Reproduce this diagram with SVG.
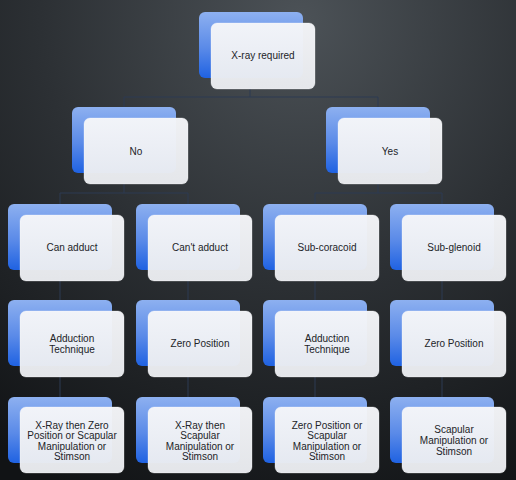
<svg xmlns="http://www.w3.org/2000/svg" width="516" height="480" viewBox="0 0 516 480">
<defs>
<radialGradient id="bg" cx="300" cy="20" r="520" gradientUnits="userSpaceOnUse">
<stop offset="0" stop-color="#4c5257"/>
<stop offset="0.5" stop-color="#2c3034"/>
<stop offset="1" stop-color="#111315"/>
</radialGradient>
<linearGradient id="blue" x1="0" y1="0" x2="0" y2="1">
<stop offset="0" stop-color="#8db0f0"/>
<stop offset="0.55" stop-color="#5a8ae8"/>
<stop offset="1" stop-color="#1f62e2"/>
</linearGradient>
<linearGradient id="white" x1="0" y1="0" x2="0" y2="1">
<stop offset="0" stop-color="#f5f6f9"/>
<stop offset="1" stop-color="#eaecf0"/>
</linearGradient>
</defs>
<style>
.back{fill:url(#blue);}
.front{fill:url(#white);fill-opacity:0.97;stroke:#ffffff;stroke-opacity:0.5;stroke-width:0.6;}
.lbl{font-family:"Liberation Sans",Arial,sans-serif;font-size:10px;fill:#222428;text-anchor:middle;}
.conn{fill:none;stroke:#2c3a52;stroke-width:1;}
</style>
<rect x="0" y="0" width="516" height="480" fill="url(#bg)"/>
<g id="connectors" class="conn">
<path d="M250,78V97M124,97H378M124,97V107M378,97V107"/>
<path d="M124,173V193M60,193H188M60,193V204M188,193V204"/>
<path d="M378,173V193M315,193H442M315,193V204M442,193V204"/>
<path d="M60,270V300M188,270V300M315,270V300M442,270V300"/>
<path d="M60,366V397M188,366V397M315,366V397M442,366V397"/>
</g>
<g id="n-xray"><rect class="back" x="199" y="12" width="104" height="66" rx="6"/><rect class="front" x="211" y="23" width="104" height="66" rx="6"/><text class="lbl" x="263" y="59">X-ray required</text></g>
<g id="n-no"><rect class="back" x="72" y="107" width="104" height="66" rx="6"/><rect class="front" x="84" y="118" width="104" height="66" rx="6"/><text class="lbl" x="136" y="155">No</text></g>
<g id="n-yes"><rect class="back" x="326" y="107" width="104" height="66" rx="6"/><rect class="front" x="338" y="118" width="104" height="66" rx="6"/><text class="lbl" x="390" y="155">Yes</text></g>
<g id="n-can"><rect class="back" x="8" y="204" width="104" height="66" rx="6"/><rect class="front" x="20" y="215" width="104" height="66" rx="6"/><text class="lbl" x="72" y="251">Can adduct</text></g>
<g id="n-cant"><rect class="back" x="136" y="204" width="104" height="66" rx="6"/><rect class="front" x="148" y="215" width="104" height="66" rx="6"/><text class="lbl" x="200" y="251">Can't adduct</text></g>
<g id="n-subcor"><rect class="back" x="263" y="204" width="104" height="66" rx="6"/><rect class="front" x="275" y="215" width="104" height="66" rx="6"/><text class="lbl" x="327" y="251">Sub-coracoid</text></g>
<g id="n-subglen"><rect class="back" x="390" y="204" width="104" height="66" rx="6"/><rect class="front" x="402" y="215" width="104" height="66" rx="6"/><text class="lbl" x="454" y="251">Sub-glenoid</text></g>
<g id="n-add1"><rect class="back" x="8" y="300" width="104" height="66" rx="6"/><rect class="front" x="20" y="311" width="104" height="66" rx="6"/><text class="lbl" x="72" y="342">Adduction</text><text class="lbl" x="72" y="353">Technique</text></g>
<g id="n-zero1"><rect class="back" x="136" y="300" width="104" height="66" rx="6"/><rect class="front" x="148" y="311" width="104" height="66" rx="6"/><text class="lbl" x="200" y="347">Zero Position</text></g>
<g id="n-add2"><rect class="back" x="263" y="300" width="104" height="66" rx="6"/><rect class="front" x="275" y="311" width="104" height="66" rx="6"/><text class="lbl" x="327" y="342">Adduction</text><text class="lbl" x="327" y="353">Technique</text></g>
<g id="n-zero2"><rect class="back" x="390" y="300" width="104" height="66" rx="6"/><rect class="front" x="402" y="311" width="104" height="66" rx="6"/><text class="lbl" x="454" y="347">Zero Position</text></g>
<g id="n-r1"><rect class="back" x="8" y="397" width="104" height="66" rx="6"/><rect class="front" x="20" y="407" width="104" height="66" rx="6"/><text class="lbl" x="72" y="428.5">X-Ray then Zero</text><text class="lbl" x="72" y="439">Position or Scapular</text><text class="lbl" x="72" y="449.5">Manipulation or</text><text class="lbl" x="72" y="460">Stimson</text></g>
<g id="n-r2"><rect class="back" x="136" y="397" width="104" height="66" rx="6"/><rect class="front" x="148" y="407" width="104" height="66" rx="6"/><text class="lbl" x="200" y="428.5">X-Ray then</text><text class="lbl" x="200" y="439">Scapular</text><text class="lbl" x="200" y="449.5">Manipulation or</text><text class="lbl" x="200" y="460">Stimson</text></g>
<g id="n-r3"><rect class="back" x="263" y="397" width="104" height="66" rx="6"/><rect class="front" x="275" y="407" width="104" height="66" rx="6"/><text class="lbl" x="327" y="428.5">Zero Position or</text><text class="lbl" x="327" y="439">Scapular</text><text class="lbl" x="327" y="449.5">Manipulation or</text><text class="lbl" x="327" y="460">Stimson</text></g>
<g id="n-r4"><rect class="back" x="390" y="397" width="104" height="66" rx="6"/><rect class="front" x="402" y="407" width="104" height="66" rx="6"/><text class="lbl" x="454" y="433">Scapular</text><text class="lbl" x="454" y="444">Manipulation or</text><text class="lbl" x="454" y="455">Stimson</text></g>
</svg>
